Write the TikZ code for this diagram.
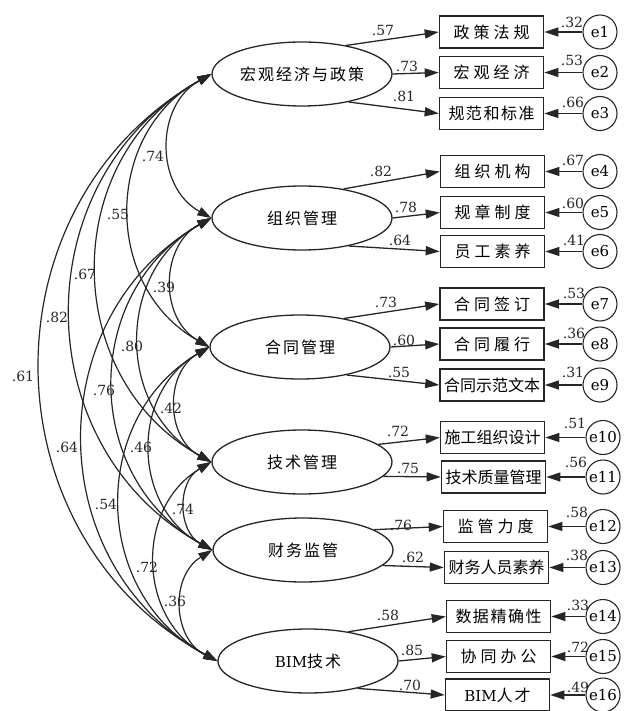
\documentclass[tikz,border=0pt]{standalone}
\usepackage{fontspec}
\setmainfont{DejaVu Serif}
\newfontfamily\cjk{Noto Sans CJK SC}
\usetikzlibrary{arrows.meta,shapes.geometric}
\newcommand{\ka}{\kern4pt}
\newcommand{\kb}{\kern1.5pt}
\newcommand{\kc}{\kern2pt}
\newcommand{\latn}[1]{{\normalfont\fontsize{15}{17}\selectfont #1}}
\begin{document}
\begin{tikzpicture}[x=1pt,y=1pt,
  lat/.style={ellipse, draw=black!85, line width=1.3pt, minimum width=180pt, minimum height=64pt, inner sep=0pt, font=\cjk\fontsize{16}{18}\selectfont},
  obs/.style={rectangle, draw=black!85, line width=1.6pt, minimum width=104pt, minimum height=32pt, inner sep=0pt, font=\cjk\fontsize{16}{18}\selectfont},
  err/.style={circle, draw=black!85, line width=1.1pt, minimum size=34pt, inner sep=0pt, font=\fontsize{15}{17}\selectfont},
  num/.style={inner sep=0pt, font=\fontsize{14}{16}\selectfont, text=black!85},
  load/.style={draw=black!85, line width=1.3pt, -{Triangle[length=14pt,width=9pt]}},
  cov/.style={draw=black!85, line width=1.2pt, {Triangle[length=14pt,width=9pt]}-{Triangle[length=14pt,width=9pt]}, bend right=61, looseness=1.15},
]
\useasboundingbox (0,0) rectangle (624,-711);

% latent variables
\node[lat] (m1) at (302,-74) {宏\kc 观\kc 经\kc 济\kc 与\kc 政\kc 策};
\node[lat] (m2) at (302,-218) {组\kc 织\kc 管\kc 理};
\node[lat] (m3) at (300,-347) {合\kc 同\kc 管\kc 理};
\node[lat] (m4) at (302,-462) {技\kc 术\kc 管\kc 理};
\node[lat] (m5) at (303,-550) {财\kc 务\kc 监\kc 管};
\node[lat] (m6) at (308,-661) {\latn{BIM}技\kc 术};

% observed variables
\node[obs] (b1) at (491.5,-32) {政\ka 策\ka 法\ka 规};
\node[obs] (b2) at (491.5,-72.5) {宏\ka 观\ka 经\ka 济};
\node[obs] (b3) at (491.5,-113.5) {规\kb 范\kb 和\kb 标\kb 准};
\node[obs] (b4) at (492.5,-171.5) {组\ka 织\ka 机\ka 构};
\node[obs] (b5) at (492.5,-212.5) {规\ka 章\ka 制\ka 度};
\node[obs] (b6) at (492.5,-251.5) {员\ka 工\ka 素\ka 养};
\node[obs] (b7) at (492,-304) {合\ka 同\ka 签\ka 订};
\node[obs] (b8) at (492,-344) {合\ka 同\ka 履\ka 行};
\node[obs] (b9) at (492,-385) {合同示范文本};
\node[obs] (b10) at (492.5,-437.5) {施工组织设计};
\node[obs] (b11) at (493.5,-477) {技术质量管理};
\node[obs] (b12) at (495.5,-526.5) {监\ka 管\ka 力\ka 度};
\node[obs] (b13) at (496.5,-567.5) {财务人员素养};
\node[obs] (b14) at (498.5,-616.5) {数\kb 据\kb 精\kb 确\kb 性};
\node[obs] (b15) at (498.5,-656.5) {协\ka 同\ka 办\ka 公};
\node[obs] (b16) at (497.5,-695) {\latn{BIM}人\kc 才};

% error terms
\node[err] (e1) at (600,-32) {e1};
\node[err] (e2) at (600,-72.5) {e2};
\node[err] (e3) at (600,-113.5) {e3};
\node[err] (e4) at (600,-171.5) {e4};
\node[err] (e5) at (600,-212.5) {e5};
\node[err] (e6) at (600,-251.5) {e6};
\node[err] (e7) at (600,-304) {e7};
\node[err] (e8) at (600,-344) {e8};
\node[err] (e9) at (600,-385) {e9};
\node[err] (e10) at (603,-437.5) {e10};
\node[err] (e11) at (603,-477) {e11};
\node[err] (e12) at (603,-526.5) {e12};
\node[err] (e13) at (603,-567.5) {e13};
\node[err] (e14) at (603,-616.5) {e14};
\node[err] (e15) at (603,-656.5) {e15};
\node[err] (e16) at (603,-695) {e16};

% error paths
\foreach \i in {1,...,16} { \draw[load] (e\i.west) -- (b\i.east); }
\node[num] at (572,-22) {.32};
\node[num] at (572,-60) {.53};
\node[num] at (573,-102) {.66};
\node[num] at (573,-160) {.67};
\node[num] at (573,-203) {.60};
\node[num] at (574,-240) {.41};
\node[num] at (574,-293) {.53};
\node[num] at (574,-333) {.36};
\node[num] at (573,-372) {.31};
\node[num] at (575,-423) {.51};
\node[num] at (576,-462) {.56};
\node[num] at (577,-512) {.58};
\node[num] at (577,-555) {.38};
\node[num] at (578,-605) {.33};
\node[num] at (578,-647) {.72};
\node[num] at (578,-687) {.49};

% loadings
\draw[load] (m1.33) -- (b1.west);
\draw[load] (m1.east) -- (b2.west);
\draw[load] (m1.-31) -- (b3.west);
\draw[load] (m2.35) -- (b4.west);
\draw[load] (m2.east) -- (b5.west);
\draw[load] (m2.-31) -- (b6.west);
\draw[load] (m3.33) -- (b7.west);
\draw[load] (m3.east) -- (b8.west);
\draw[load] (m3.-31) -- (b9.west);
\draw[load] (m4.13) -- (b10.west);
\draw[load] (m4.-10) -- (b11.west);
\draw[load] (m5.16) -- (b12.west);
\draw[load] (m5.-11) -- (b13.west);
\draw[load] (m6.36) -- (b14.west);
\draw[load] (m6.east) -- (b15.west);
\draw[load] (m6.-29) -- (b16.west);
\node[num] at (383,-30) {.57};
\node[num] at (407,-66) {.73};
\node[num] at (404,-96) {.81};
\node[num] at (381,-171) {.82};
\node[num] at (406,-207) {.78};
\node[num] at (400,-240) {.64};
\node[num] at (386,-302) {.73};
\node[num] at (404,-340) {.60};
\node[num] at (399,-372) {.55};
\node[num] at (398,-431) {.72};
\node[num] at (408,-468) {.75};
\node[num] at (401,-525) {.76};
\node[num] at (413,-557) {.62};
\node[num] at (388,-615) {.58};
\node[num] at (412,-650) {.85};
\node[num] at (410,-685) {.70};

% covariances
\draw[cov] (m1.west) to (m2.west);
\draw[cov] (m1.west) to (m3.west);
\draw[cov] (m1.west) to (m4.west);
\draw[cov] (m1.west) to (m5.west);
\draw[cov] (m1.west) to (m6.west);
\draw[cov] (m2.west) to (m3.west);
\draw[cov] (m2.west) to (m4.west);
\draw[cov] (m2.west) to (m5.west);
\draw[cov] (m2.west) to (m6.west);
\draw[cov] (m3.west) to (m4.west);
\draw[cov] (m3.west) to (m5.west);
\draw[cov] (m3.west) to (m6.west);
\draw[cov] (m4.west) to (m5.west);
\draw[cov] (m4.west) to (m6.west);
\draw[cov] (m5.west) to (m6.west);
\node[num] at (153,-156) {.74};
\node[num] at (118,-214) {.55};
\node[num] at (85,-274) {.67};
\node[num] at (57,-317) {.82};
\node[num] at (23,-376) {.61};
\node[num] at (164,-287) {.39};
\node[num] at (132,-346) {.80};
\node[num] at (104,-390) {.76};
\node[num] at (67,-447) {.64};
\node[num] at (171,-408) {.42};
\node[num] at (141,-447) {.46};
\node[num] at (106,-504) {.54};
\node[num] at (183,-509) {.74};
\node[num] at (147,-567) {.72};
\node[num] at (175,-601) {.36};
\end{tikzpicture}
\end{document}
